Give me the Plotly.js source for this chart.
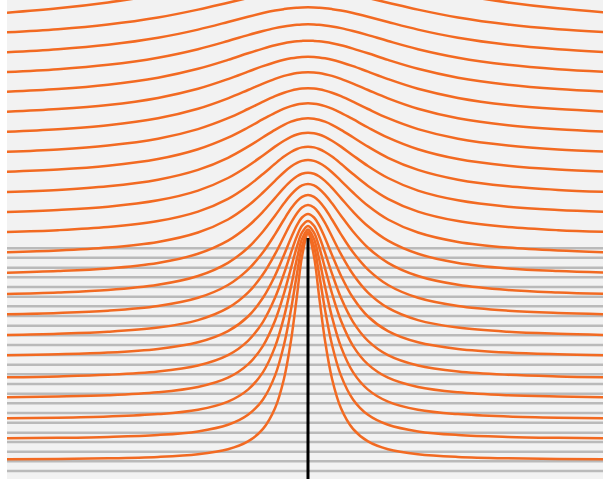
<!DOCTYPE html>
<html>
<head>
<meta charset="utf-8">
<script src="https://cdn.plot.ly/plotly-3.0.1.min.js"></script>
<style>html,body{margin:0;padding:0;background:#fff;}#chart{width:603px;height:486px;}</style>
</head>
<body>
<div id="chart"></div>
<script>
// Sample positions along x (left half, from the left edge to the plate at x = 0)
const sampleX = [-301, -250, -200, -150, -110, -80, -60, -45, -33, -24, -17, -11, -6, 0];

// Height of each streamline at sampleX (top line first); curves are mirror-symmetric about x = 0
const streamlineHeights = [
  [466.3, 470.7, 476.6, 484.2, 491.4, 496.9, 500.1, 502.1, 503.4, 504.1, 504.6, 504.8, 504.9, 505.0],
  [446.7, 449.8, 454.5, 461.5, 469.4, 476.3, 481.0, 484.2, 486.3, 487.5, 488.3, 488.7, 488.9, 489.0],
  [426.7, 429.7, 434.2, 441.2, 449.4, 457.0, 462.3, 466.0, 468.5, 469.9, 470.8, 471.3, 471.6, 471.7],
  [407.0, 409.8, 414.2, 421.3, 429.8, 438.0, 443.9, 448.0, 450.9, 452.6, 453.6, 454.3, 454.6, 454.7],
  [387.3, 390.0, 394.3, 401.3, 410.2, 419.1, 425.7, 430.4, 433.8, 435.8, 437.0, 437.8, 438.1, 438.3],
  [367.3, 369.9, 374.0, 381.1, 390.2, 399.9, 407.3, 412.9, 416.8, 419.3, 420.7, 421.6, 422.1, 422.3],
  [347.3, 349.8, 353.8, 360.8, 370.3, 380.7, 389.0, 395.4, 400.1, 403.1, 404.8, 405.9, 406.5, 406.7],
  [327.3, 329.6, 333.5, 340.3, 349.9, 360.8, 370.0, 377.3, 382.8, 386.3, 388.4, 389.7, 390.4, 390.7],
  [307.3, 309.5, 313.3, 320.0, 329.8, 341.4, 351.5, 359.8, 366.2, 370.4, 372.9, 374.5, 375.3, 375.7],
  [287.0, 289.1, 292.7, 299.3, 309.1, 321.2, 332.3, 341.7, 349.2, 354.2, 357.3, 359.2, 360.3, 360.7],
  [267.0, 269.0, 272.3, 278.7, 288.4, 301.0, 313.0, 323.6, 332.4, 338.3, 342.1, 344.5, 345.8, 346.3],
  [247.0, 248.8, 251.9, 257.9, 267.4, 280.2, 293.1, 305.0, 315.2, 322.4, 327.0, 330.0, 331.6, 332.3],
  [226.7, 228.4, 231.4, 237.1, 246.5, 259.5, 273.2, 286.5, 298.2, 306.8, 312.5, 316.1, 318.1, 319.0],
  [206.3, 207.9, 210.6, 216.1, 225.2, 238.3, 252.7, 267.3, 280.9, 291.1, 298.1, 302.7, 305.2, 306.3],
  [185.0, 186.5, 189.0, 194.2, 203.0, 216.2, 231.3, 247.5, 263.3, 275.7, 284.4, 290.3, 293.6, 295.0],
  [164.7, 166.0, 168.3, 173.0, 181.2, 194.0, 209.4, 226.8, 244.7, 259.5, 270.4, 277.9, 282.1, 284.0],
  [144.0, 145.2, 147.2, 151.4, 158.9, 171.1, 186.4, 204.7, 224.8, 242.5, 256.1, 265.8, 271.5, 274.0],
  [123.7, 124.7, 126.4, 130.1, 136.7, 147.9, 162.5, 181.2, 203.3, 224.1, 241.0, 253.9, 261.5, 265.0],
  [101.7, 102.6, 104.2, 107.5, 113.5, 123.9, 138.2, 157.2, 181.2, 205.4, 226.3, 243.0, 253.2, 258.0],
  [81.7, 82.5, 83.8, 86.7, 92.0, 101.3, 114.6, 133.2, 158.3, 185.5, 210.9, 232.5, 246.3, 253.0],
  [60.7, 61.3, 62.5, 64.9, 69.3, 77.4, 89.4, 106.9, 132.1, 162.0, 192.5, 220.6, 239.9, 249.5],
  [40.7, 41.2, 42.1, 44.0, 47.6, 54.2, 64.2, 79.6, 103.4, 134.3, 169.4, 205.5, 232.6, 247.0],
  [19.7, 20.1, 20.7, 22.1, 24.8, 29.8, 37.6, 50.1, 70.7, 100.3, 138.4, 183.5, 222.4, 245.0]
];

// Horizontal grey reference lines (heights)
const greyLevels = [230.7, 221.3, 211.3, 201.7, 192.0, 182.3, 172.7, 163.0, 153.3, 143.7, 134.0, 124.0,
                    114.3, 104.7, 95.0, 85.3, 75.7, 66.0, 56.3, 46.3, 37.0, 27.3, 17.7, 8.0];

// Vertical plate at x = 0
const plateX = [0, 0];
const plateY = [-10, 241];

const xRange = [-301, 295];
const yRange = [0, 479];

const traces = [];

// grey lines
const gx = [], gy = [];
greyLevels.forEach(v => { gx.push(-400, 400, null); gy.push(v, v, null); });
traces.push({type: 'scatter', mode: 'lines', x: gx, y: gy,
  line: {color: '#bababa', width: 2.5}, hoverinfo: 'skip'});

// streamlines (mirror each left half to the right)
const fullX = sampleX.concat(sampleX.slice(0, -1).reverse().map(v => -v));
streamlineHeights.forEach(h => {
  const fullY = h.concat(h.slice(0, -1).reverse());
  traces.push({type: 'scatter', mode: 'lines', x: fullX, y: fullY,
    line: {color: '#f26a22', width: 2.5, shape: 'spline', smoothing: 1}, hoverinfo: 'skip'});
});

// plate
traces.push({type: 'scatter', mode: 'lines', x: plateX, y: plateY,
  line: {color: '#000000', width: 3}, hoverinfo: 'skip'});

const layout = {
  width: 603, height: 486,
  margin: {l: 7, r: 0, t: 0, b: 7, pad: 0},
  paper_bgcolor: '#ffffff',
  plot_bgcolor: '#f2f2f2',
  showlegend: false,
  hovermode: false,
  xaxis: {range: xRange, showgrid: false, zeroline: false, showticklabels: false, ticks: '', showline: false, fixedrange: true},
  yaxis: {range: yRange, showgrid: false, zeroline: false, showticklabels: false, ticks: '', showline: false, fixedrange: true}
};

Plotly.newPlot('chart', traces, layout, {staticPlot: true, displayModeBar: false});
</script>
</body>
</html>
